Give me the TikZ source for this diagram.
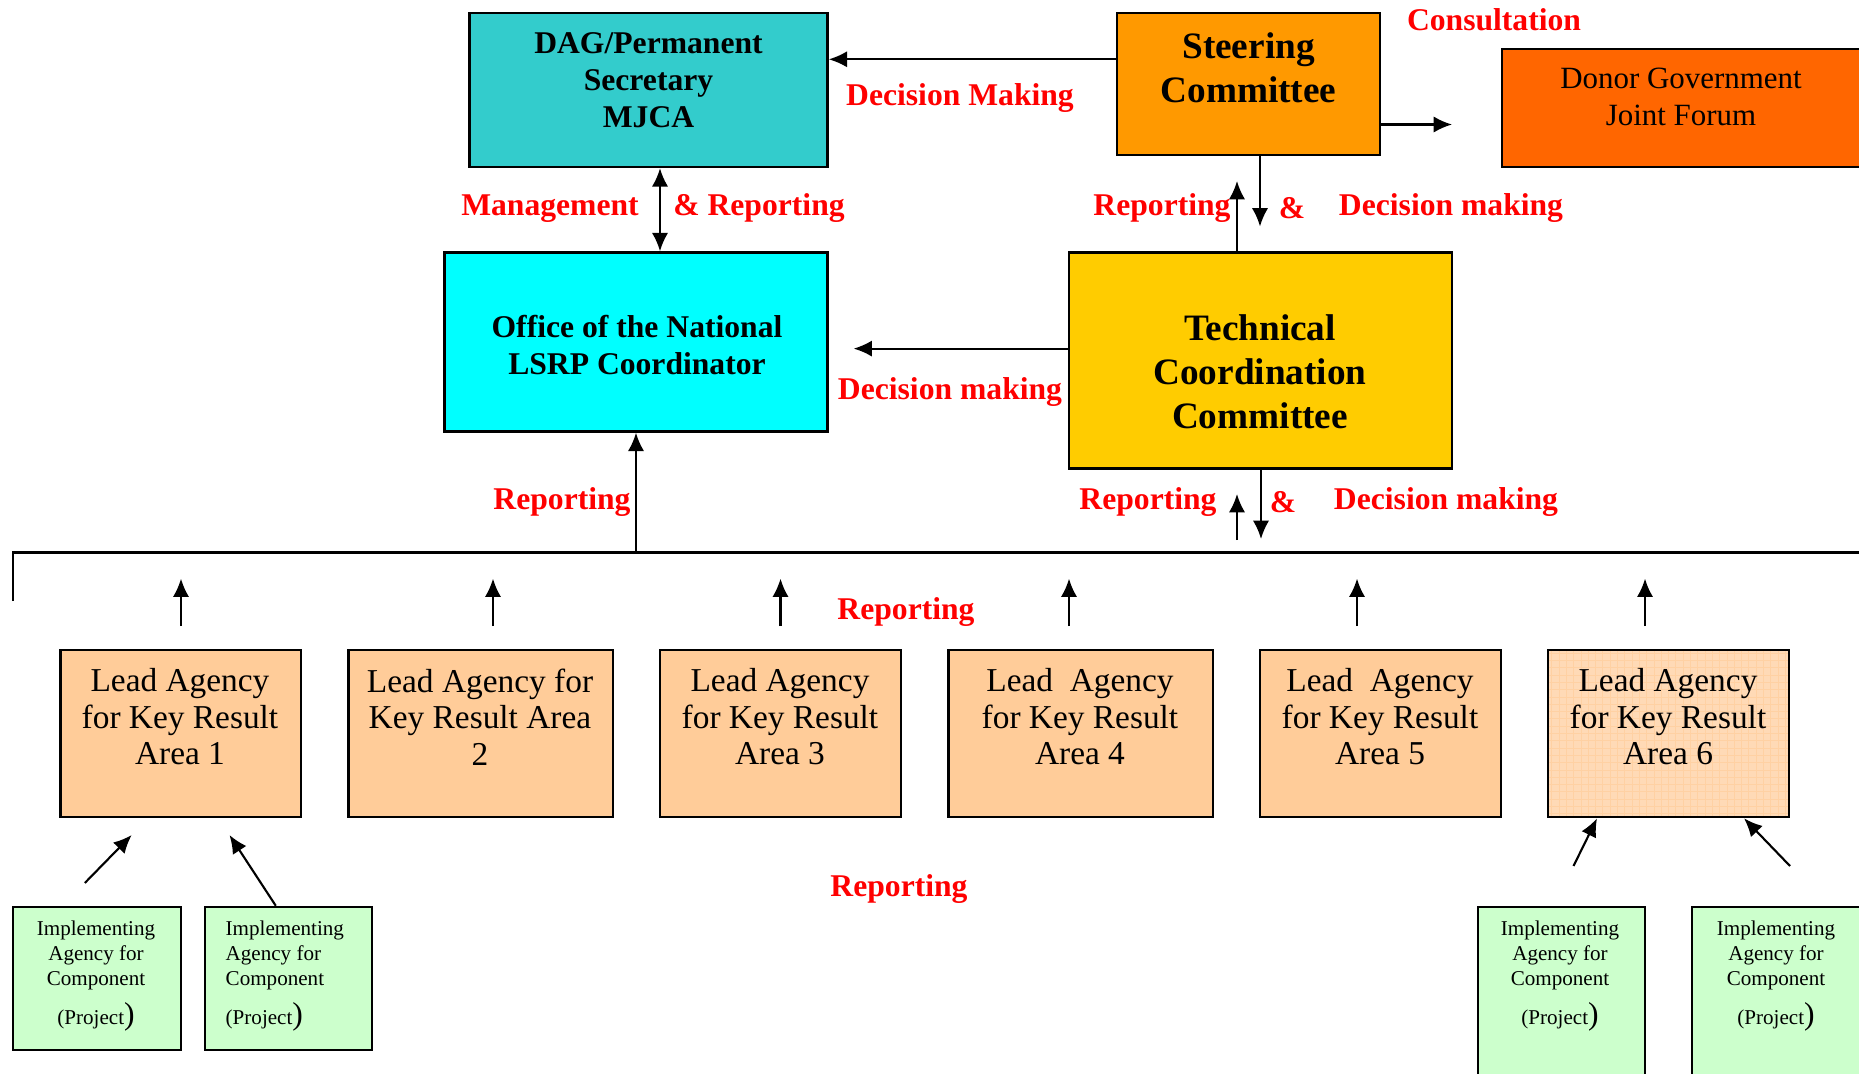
\documentclass[tikz,border=0pt]{standalone}
\usepackage{fontspec}
\setmainfont{Liberation Serif}
\usetikzlibrary{arrows.meta}

\definecolor{dagcol}{HTML}{33CCCC}
\definecolor{officecol}{HTML}{00FFFF}
\definecolor{steercol}{HTML}{FF9900}
\definecolor{donorcol}{HTML}{FF6600}
\definecolor{tcccol}{HTML}{FFCC00}
\definecolor{leadcol}{HTML}{FFCC99}
\definecolor{implcol}{HTML}{CCFFCC}
\definecolor{lblred}{HTML}{FF0000}

\tikzset{
  box/.style={draw=black, line width=0.7pt, inner sep=0pt},
  tip/.tip={Latex[length=5.2pt,width=4.6pt]},
  arr/.style={-tip, line width=0.6pt},
  dblarr/.style={tip-tip, line width=0.6pt},
  lbl/.style={text=lblred, font=\fontsize{9}{10}\selectfont\bfseries, inner sep=0pt},
  bigtxt/.style={align=center, font=\fontsize{10.6}{12.5}\selectfont\bfseries, inner sep=0pt},
  midtxt/.style={align=center, font=\fontsize{9}{10.6}\selectfont\bfseries, inner sep=0pt},
  leadtxt/.style={align=center, font=\fontsize{9.5}{10.4}\selectfont, inner sep=0pt},
  smalltxt/.style={align=center, font=\fontsize{6}{7.1}\selectfont, inner sep=0pt},
}
\newcommand{\proj}{(Project{\fontsize{9}{9}\selectfont)}}

\begin{document}
\begin{tikzpicture}
  \useasboundingbox (0,0) rectangle (18.59,-10.74);

  % top level boxes
  \node[box, fill=dagcol, minimum width=3.58cm, minimum height=1.54cm] (dag) at (6.485,-0.90) {};
  \node[midtxt] (dag-t) at (6.485,-0.80) {DAG/Permanent\\Secretary\\MJCA};
  \node[box, fill=steercol, minimum width=2.63cm, minimum height=1.42cm] (steer) at (12.485,-0.84) {};
  \node[bigtxt] (steer-t) at (12.485,-0.68) {Steering\\Committee};
  \node[box, fill=donorcol, minimum width=4.2cm, minimum height=1.18cm, anchor=west] (donor) at (15.01,-1.078) {};
  \node[leadtxt, font=\fontsize{8.8}{10.5}\selectfont] (donor-t) at (16.81,-0.97) {Donor Government\\Joint Forum};

  % second level
  \node[box, fill=officecol, minimum width=3.83cm, minimum height=1.79cm] (office) at (6.36,-3.42) {};
  \node[midtxt, font=\fontsize{9}{10.8}\selectfont\bfseries] (office-t) at (6.37,-3.45) {Office of the National\\LSRP Coordinator};
  \node[box, fill=tcccol, minimum width=3.83cm, minimum height=2.158cm] (tcc) at (12.605,-3.604) {};
  \node[bigtxt] (tcc-t) at (12.60,-3.72) {Technical\\Coordination\\Committee};

  % connectors at the top
  \coordinate (sd-y) at (0,-0.593);
  \draw[arr] (steer.west |- sd-y) -- (dag.east |- sd-y);
  \coordinate (cons) at (14.52,-1.245);
  \draw[arr] (steer.east |- cons) -- (cons);
  \coordinate (mg) at (6.60,0);
  \draw[dblarr] (dag.south -| mg) -- (office.north -| mg);
  \coordinate (sr-t) at (12.37,-1.81);
  \draw[arr] (tcc.north -| sr-t) -- (sr-t);
  \coordinate (sd-b) at (12.60,-2.265);
  \draw[arr] (steer.south -| sd-b) -- (sd-b);
  \coordinate (tdm) at (8.536,-3.486);
  \draw[arr] (tcc.west |- tdm) -- (tdm);

  % bus line
  \coordinate (bus-l) at (0.13,-6.01);
  \coordinate (bus-c) at (0.13,-5.525);
  \coordinate (bus-r) at (18.8,-5.525);
  \draw[line width=0.7pt] (bus-l) -- (bus-c) -- (bus-r);
  \draw[arr] (office.south |- bus-c) -- (office.south);
  \coordinate (tr-b) at (12.37,-5.40);
  \coordinate (tr-t) at (12.37,-4.94);
  \draw[arr] (tr-b) -- (tr-t);
  \coordinate (td-b) at (12.61,-5.39);
  \draw[arr] (tcc.south -| td-b) -- (td-b);

  % lead agencies
  \foreach \i/\x/\w in {1/1.8075/2.405, 2/4.808/2.644, 3/7.805/2.41, 4/10.8075/2.645, 5/13.805/2.41}
    \node[box, fill=leadcol, minimum width=\w cm, minimum height=1.673cm] (lead\i) at (\x,-7.334) {};
  \node[box, fill=leadcol!72!white, minimum width=2.41cm, minimum height=1.673cm,
    path picture={\draw[leadcol!90!white, line width=0.2pt, step=0.073]
      (path picture bounding box.south west) grid (path picture bounding box.north east);}] (lead6) at (16.685,-7.334) {};
  \node[leadtxt] (lead1-t) at (1.80,-7.17) {Lead Agency\\for Key Result\\Area 1};
  \node[leadtxt] (lead2-t) at (4.80,-7.17) {Lead Agency for\\Key Result Area\\2};
  \node[leadtxt] (lead3-t) at (7.80,-7.17) {Lead Agency\\for Key Result\\Area 3};
  \node[leadtxt] (lead4-t) at (10.80,-7.17) {Lead\ \ Agency\\for Key Result\\Area 4};
  \node[leadtxt] (lead5-t) at (13.80,-7.17) {Lead\ \ Agency\\for Key Result\\Area 5};
  \node[leadtxt] (lead6-t) at (16.68,-7.17) {Lead Agency\\for Key Result\\Area 6};

  \foreach \i/\ax in {1/1.81, 2/4.93, 3/7.805, 4/10.69, 5/13.57, 6/16.45} {
    \coordinate (up-b\i) at (\ax,-6.26);
    \coordinate (up-t\i) at (\ax,-5.786);
    \draw[arr] (up-b\i) -- (up-t\i);
  }

  % implementing agencies
  \node[box, fill=implcol, minimum width=1.68cm, minimum height=1.43cm] (impl1) at (0.97,-9.785) {};
  \node[box, fill=implcol, minimum width=1.67cm, minimum height=1.43cm] (impl2) at (2.885,-9.785) {};
  \node[box, fill=implcol, minimum width=1.67cm, minimum height=1.93cm] (impl3) at (15.615,-10.035) {};
  \node[box, fill=implcol, minimum width=1.75cm, minimum height=1.93cm] (impl4) at (17.795,-10.035) {};
  \node[smalltxt] (impl1-t) at (0.96,-9.76) {Implementing\\Agency for\\Component\\[2.8pt]\proj};
  \node[smalltxt, align=left, anchor=west] (impl2-t) at (2.25,-9.76) {Implementing\\Agency for\\Component\\[2.8pt]\proj};
  \node[smalltxt] (impl3-t) at (15.60,-9.76) {Implementing\\Agency for\\Component\\[2.8pt]\proj};
  \node[smalltxt] (impl4-t) at (17.76,-9.76) {Implementing\\Agency for\\Component\\[2.8pt]\proj};

  \coordinate (ia) at (0.848,-8.83);
  \coordinate (ia-t) at (1.317,-8.35);
  \draw[arr] (ia) -- (ia-t);
  \coordinate (ib) at (2.758,0);
  \coordinate (ib-t) at (2.295,-8.35);
  \draw[arr] (impl2.north -| ib) -- (ib-t);
  \coordinate (ic) at (15.735,-8.66);
  \coordinate (ic-t) at (15.97,0);
  \draw[arr] (ic) -- (lead6.south -| ic-t);
  \coordinate (id) at (17.90,-8.66);
  \coordinate (id-t) at (17.44,0);
  \draw[arr] (id) -- (lead6.south -| id-t);

  % red labels
  \node[lbl] (consult) at (14.94,-0.20) {Consultation};
  \node[lbl] (dm-top) at (9.60,-0.985) {Decision Making};
  \node[lbl] (mgmt) at (5.50,-2.085) {Management};
  \node[lbl] (mgmt-r) at (7.59,-2.085) {\& Reporting};
  \node[lbl] (rep-sc) at (11.62,-2.085) {Reporting};
  \node[lbl] (amp-sc) at (12.92,-2.085) {\&};
  \node[lbl] (dm-sc) at (14.51,-2.085) {Decision making};
  \node[lbl] (dm-tcc) at (9.50,-3.92) {Decision making};
  \node[lbl] (rep-off) at (5.62,-5.025) {Reporting};
  \node[lbl] (rep-tcc) at (11.48,-5.025) {Reporting};
  \node[lbl] (amp-tcc) at (12.83,-5.025) {\&};
  \node[lbl] (dm-tcc2) at (14.46,-5.025) {Decision making};
  \node[lbl] (rep-lead) at (9.06,-6.12) {Reporting};
  \node[lbl] (rep-impl) at (8.99,-8.89) {Reporting};
\end{tikzpicture}
\end{document}
